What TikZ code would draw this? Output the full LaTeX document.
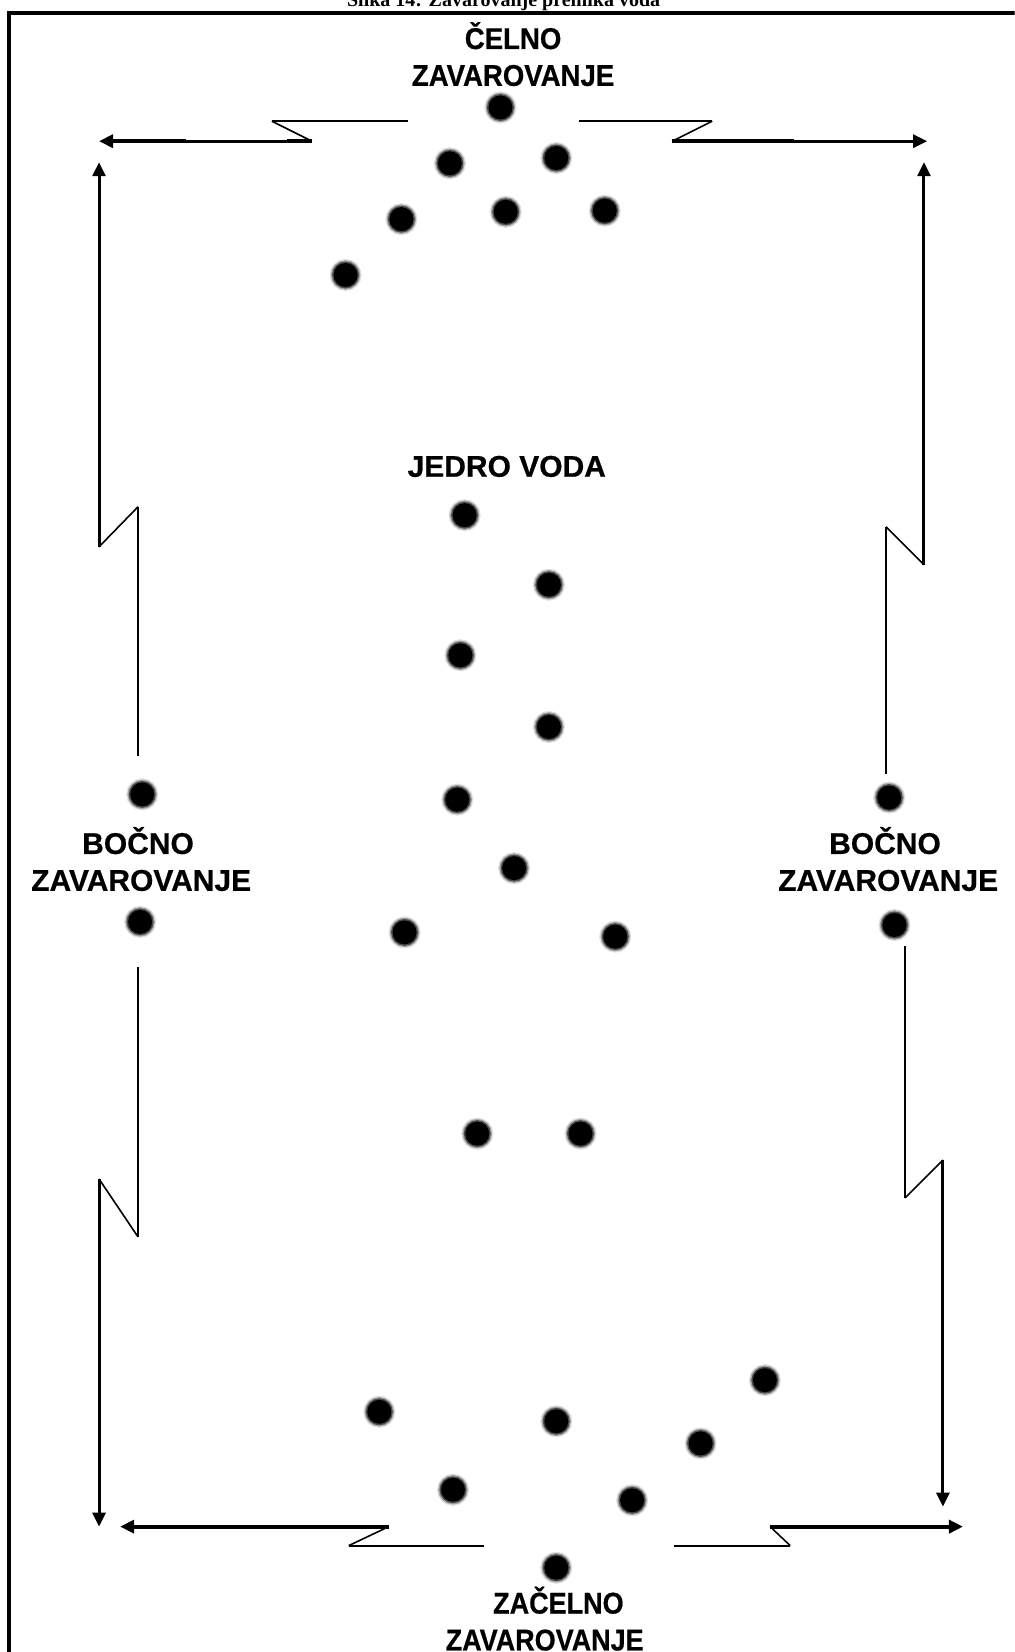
\documentclass[tikz,border=0pt]{standalone}
\usepackage{fontspec}
\newfontfamily\lsans[FakeBold=0.6]{Liberation Sans}
\newfontfamily\lserif{Liberation Serif}
\usetikzlibrary{arrows.meta}
\begin{document}
\begin{tikzpicture}[x=1.054pt,y=-1.054pt,
  blob/.style={circle,fill=black,minimum size=24pt,inner sep=0pt,
    preaction={draw=black!12,line width=8pt},
    preaction={draw=black!35,line width=5.5pt},
    preaction={draw=black!70,line width=3pt}},
  lbl/.style={font=\lsans\bfseries\fontsize{30}{32}\selectfont,anchor=base,inner sep=0pt},
  toplbl/.style={lbl,xscale=0.92},
  botlbl/.style={lbl,xscale=0.9},
  thinln/.style={line width=2pt},
  medln/.style={line width=3pt},
  thickln/.style={line width=4pt},
  zigln/.style={line width=1.6pt},
  arrowtip/.style={-{Triangle[length=14pt,width=13pt]}}
]
\useasboundingbox (0,0) rectangle (963,1568);
\clip (0,0) rectangle (963,1568);
\fill[white] (0,0) rectangle (963,1568);

% title (cut by the top edge) and frame
\node[font=\lserif\bfseries\fontsize{20}{22}\selectfont,anchor=base,inner sep=0pt] (title) at (478,6) {Slika 14: Zavarovanje premika voda};
\draw[line width=4pt] (8.5,12.3) rectangle (1000,1620);

% labels
\node[toplbl] (celno1) at (487,46.5) {ČELNO};
\node[toplbl] (celno2) at (487,81.5) {ZAVAROVANJE};
\node[lbl] (jedro) at (481,452.5) {JEDRO VODA};
\node[lbl] (bocl1) at (131,810.5) {BOČNO};
\node[lbl] (bocl2) at (134,845.5) {ZAVAROVANJE};
\node[lbl] (bocr1) at (840,810.5) {BOČNO};
\node[lbl] (bocr2) at (843,845.5) {ZAVAROVANJE};
\node[botlbl] (zac1) at (530,1531.5) {ZAČELNO};
\node[botlbl] (zac2) at (517,1566.5) {ZAVAROVANJE};

% front group
\node[blob] (f1) at (475,102) {};
\node[blob] (f2) at (427,155) {};
\node[blob] (f3) at (528,150) {};
\node[blob] (f4) at (381,208) {};
\node[blob] (f5) at (480,201) {};
\node[blob] (f6) at (574,200) {};
\node[blob] (f7) at (328,261) {};

% core
\node[blob] (c1) at (441,489) {};
\node[blob] (c2) at (521,555) {};
\node[blob] (c3) at (437,622) {};
\node[blob] (c4) at (521,690) {};
\node[blob] (c5) at (434,759) {};
\node[blob] (c6) at (488,824) {};
\node[blob] (c7) at (384,885) {};
\node[blob] (c8) at (584,889) {};
\node[blob] (c9) at (453,1076) {};
\node[blob] (c10) at (551,1076) {};

% side
\node[blob] (sl1) at (135,754) {};
\node[blob] (sl2) at (133,875) {};
\node[blob] (sr1) at (844,757) {};
\node[blob] (sr2) at (849,878) {};

% rear group
\node[blob] (r1) at (726,1310) {};
\node[blob] (r2) at (360,1340) {};
\node[blob] (r3) at (528,1349) {};
\node[blob] (r4) at (665,1370) {};
\node[blob] (r5) at (430,1414) {};
\node[blob] (r6) at (600,1424) {};
\node[blob] (r7) at (528,1488) {};

% top-left
\coordinate (tl-tip) at (94,134);
\coordinate (tl-m) at (177,134);
\coordinate (tl-a) at (296,134);
\coordinate (tl-b) at (258,115);
\coordinate (tl-c) at (387,115);
\draw[thinln] (tl-c) -- (tl-b);
\draw[zigln] (tl-b) -- (tl-a);
\draw[medln] (tl-a) -- (tl-m);
\draw[thickln] ([xshift=-25pt]tl-a) -- (tl-a);
\draw[thickln,arrowtip] (tl-m) -- (tl-tip);

% top-right
\coordinate (tr-c) at (550,115);
\coordinate (tr-b) at (676,115);
\coordinate (tr-a) at (638,134);
\coordinate (tr-m) at (754,134);
\coordinate (tr-tip) at (880,134);
\draw[thinln] (tr-c) -- (tr-b);
\draw[zigln] (tr-b) -- (tr-a);
\draw[thickln] (tr-a) -- (tr-m);
\draw[medln,arrowtip] (tr-m) -- (tr-tip);

% left side upper
\coordinate (lv-tip) at (94,154);
\coordinate (lv-a) at (94,519);
\coordinate (lv-b) at (131,481);
\coordinate (lv-c) at (131,718);
\draw[medln,arrowtip] (lv-a) -- (lv-tip);
\draw[zigln] (lv-a) -- (lv-b);
\draw[thinln] (lv-b) -- (lv-c);

% left side lower
\coordinate (lw-c) at (131,918);
\coordinate (lw-b) at (131,1174);
\coordinate (lw-a) at (94,1119);
\coordinate (lw-tip) at (94,1449);
\draw[thinln] (lw-c) -- (lw-b);
\draw[zigln] (lw-b) -- (lw-a);
\draw[medln,arrowtip] (lw-a) -- (lw-tip);

% bottom-left
\coordinate (bl-tip) at (114,1449);
\coordinate (bl-a) at (369,1449);
\coordinate (bl-b) at (331,1467);
\coordinate (bl-c) at (459,1467);
\draw[thickln,arrowtip] (bl-a) -- (bl-tip);
\draw[zigln] (bl-a) -- (bl-b);
\draw[thinln] (bl-b) -- (bl-c);

% bottom-right
\coordinate (br-c) at (640,1467);
\coordinate (br-b) at (750,1467);
\coordinate (br-a) at (731,1449);
\coordinate (br-tip) at (914,1449);
\draw[thinln] (br-c) -- (br-b);
\draw[zigln] (br-b) -- (br-a);
\draw[thickln,arrowtip] (br-a) -- (br-tip);

% right side upper
\coordinate (rv-tip) at (877,154);
\coordinate (rv-a) at (877,536);
\coordinate (rv-b) at (841,500);
\coordinate (rv-c) at (841,735);
\draw[medln,arrowtip] (rv-a) -- (rv-tip);
\draw[zigln] (rv-a) -- (rv-b);
\draw[thinln] (rv-b) -- (rv-c);

% right side lower
\coordinate (rw-c) at (859,898);
\coordinate (rw-b) at (859,1137);
\coordinate (rw-a) at (895,1101);
\coordinate (rw-tip) at (895,1430);
\draw[thinln] (rw-c) -- (rw-b);
\draw[zigln] (rw-b) -- (rw-a);
\draw[medln,arrowtip] (rw-a) -- (rw-tip);
\end{tikzpicture}
\end{document}
